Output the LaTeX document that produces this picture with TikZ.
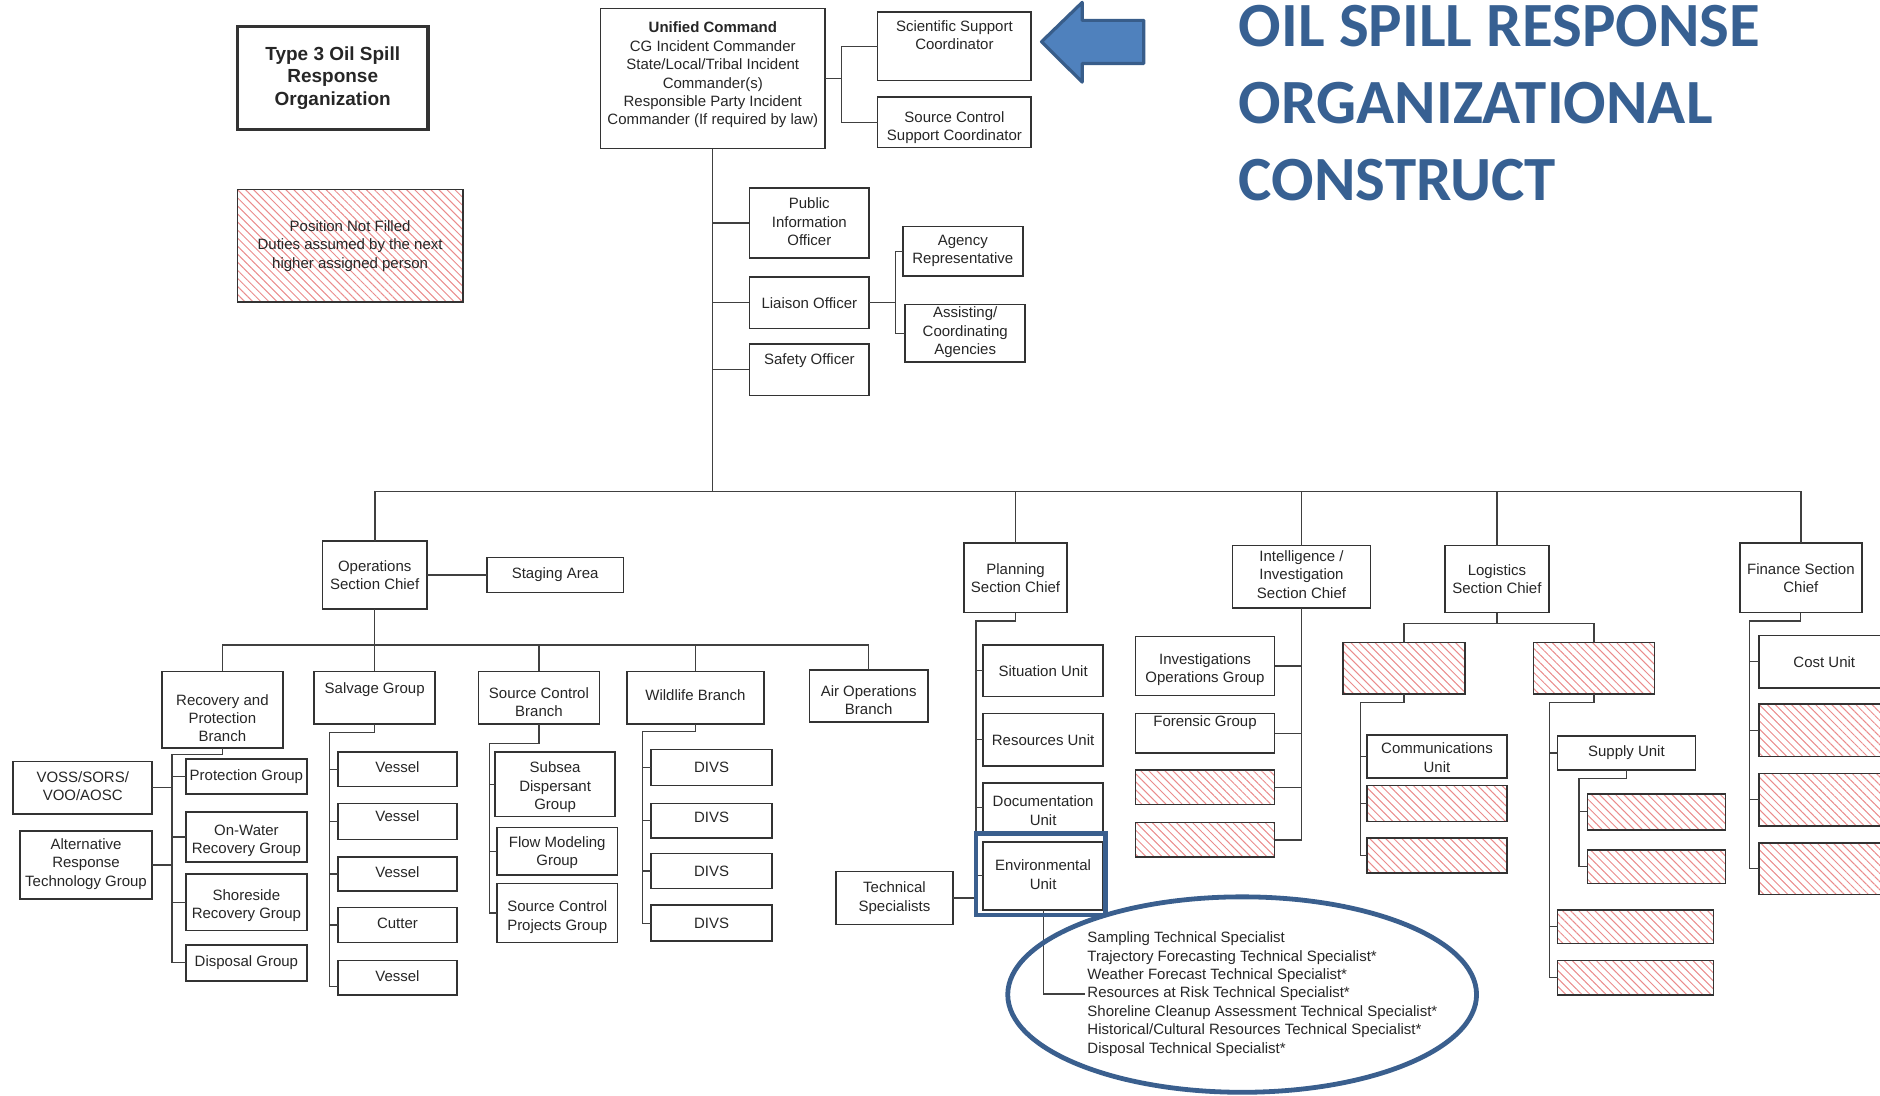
\documentclass[tikz,border=0pt]{standalone}
\usepackage{fontspec}
\setmainfont{Liberation Sans}
\newfontfamily\titlefont{Carlito}
\usetikzlibrary{patterns.meta}

\definecolor{oilblue}{RGB}{58,95,142}
\definecolor{arrowfill}{RGB}{79,129,189}
\definecolor{arrowline}{RGB}{56,93,138}
\definecolor{titleblue}{RGB}{55,96,146}
\definecolor{hatchred}{RGB}{234,140,140}

\tikzset{
  every node/.style={font=\fontsize{7.5}{9.2}\selectfont, text=black!85},
  orgbox/.style={draw=black!80, line width=0.8pt, inner sep=0pt, outer sep=0pt},
  hatched/.style={orgbox, pattern={Lines[angle=-45,distance=2.85pt,line width=0.5pt]}, pattern color=hatchred},
  hlbox/.style={draw=oilblue, line width=2.2pt, inner sep=0pt, outer sep=0pt},
  lbl/.style={align=center, inner sep=0pt},
  dn/.style={yshift={-(#1)*0.6pt}},
  link/.style={draw=black!75, line width=0.6pt},
}

% \ob[label options]{box style}{name}{x1}{y1}{x2}{y2}{text}
\newcommand{\ob}[8][]{%
  \node[#2, minimum width={(#6-#4)*0.6pt}, minimum height={(#7-#5)*0.6pt},
        label={[lbl,#1]center:{#8}}]
        (#3) at ({(#4+#6)/2},{(#5+#7)/2}) {};}

\begin{document}
\begin{tikzpicture}[x=0.6pt,y=-0.6pt]
\useasboundingbox (0,0) rectangle (1568,914);
\clip (0,0) rectangle (1568,914);

% ---------- command and staff ----------
\ob[font=\fontsize{9.5}{11.4}\selectfont\bfseries]{orgbox,line width=1.6pt}{type3}{198}{22}{357}{108}{Type 3 Oil Spill\\Response\\Organization}
\ob{hatched}{legend}{198}{158}{386}{252}{Position Not Filled\\Duties assumed by the next\\higher assigned person}

\ob[dn=-3]{orgbox}{uc}{501}{7}{688}{124}{\textbf{Unified Command}\\CG Incident Commander\\State/Local/Tribal Incident\\Commander(s)\\Responsible Party Incident\\Commander (If required by law)}
\ob[dn=-9]{orgbox}{ssc}{732}{10}{860}{67}{Scientific Support\\Coordinator}
\ob[dn=4.5]{orgbox}{scsc}{732}{81}{860}{123}{Source Control\\Support Coordinator}
\ob[dn=-1]{orgbox}{pio}{625}{157}{725}{215}{Public\\Information\\Officer}
\ob{orgbox}{lia}{625}{231}{725}{274}{Liaison Officer}
\ob[dn=-7.5]{orgbox}{saf}{625}{287}{725}{330}{Safety Officer}
\ob{orgbox}{agr}{753}{189}{853}{230}{Agency\\Representative}
\ob[dn=-1]{orgbox}{aca}{755}{254}{855}{302}{Assisting/\\Coordinating\\Agencies}

% ---------- section chiefs ----------
\ob{orgbox}{ops}{269}{451}{356}{508}{Operations\\Section Chief}
\ob{orgbox}{stg}{406}{465}{520}{494}{Staging Area}
\ob{orgbox}{plan}{804}{453}{890}{511}{Planning\\Section Chief}
\ob[dn=-2]{orgbox}{intel}{1028}{455}{1143}{507}{Intelligence /\\Investigation\\Section Chief}
\ob{orgbox}{logi}{1205}{455}{1292}{511}{Logistics\\Section Chief}
\ob{orgbox}{fin}{1451}{453}{1553}{511}{Finance Section\\Chief}

% ---------- operations ----------
\ob[dn=7]{orgbox}{rpb}{135}{560}{236}{624}{Recovery and\\Protection\\Branch}
\ob[dn=-7]{orgbox}{sal}{262}{560}{363}{604}{Salvage Group}
\ob[dn=3.5]{orgbox}{scb}{399}{560}{500}{604}{Source Control\\Branch}
\ob[dn=-2]{orgbox}{wb}{523}{560}{637}{604}{Wildlife Branch}
\ob[dn=3.5]{orgbox}{air}{675}{559}{774}{602}{Air Operations\\Branch}

\ob{orgbox}{pg}{155}{633}{256}{662}{Protection Group}
\ob[dn=3.5]{orgbox}{owr}{155}{677}{256}{719}{On-Water\\Recovery Group}
\ob[dn=3]{orgbox}{srg}{155}{729}{256}{776}{Shoreside\\Recovery Group}
\ob{orgbox}{dg}{155}{788}{256}{818}{Disposal Group}
\ob[dn=-1.5]{orgbox}{voss}{11}{635}{127}{679}{VOSS/SORS/\\VOO/AOSC}
\ob[dn=-1]{orgbox}{art}{16.5}{693}{127}{750}{Alternative\\Response\\Technology Group}

\ob[dn=-1.5]{orgbox}{v1}{282}{627}{381}{656}{Vessel}
\ob[dn=-4.5]{orgbox}{v2}{282}{670}{381}{700}{Vessel}
\ob[dn=-2]{orgbox}{v3}{282}{715}{381}{743}{Vessel}
\ob[dn=-1]{orgbox}{cut}{282}{757}{381}{786}{Cutter}
\ob[dn=-1.5]{orgbox}{v4}{282}{801}{381}{830}{Vessel}

\ob[dn=2.5]{orgbox}{sdg}{413}{627}{513}{681}{Subsea\\Dispersant\\Group}
\ob[dn=1]{orgbox}{fmg}{414.5}{690}{515}{730}{Flow Modeling\\Group}
\ob[dn=3.5]{orgbox}{scp}{414.5}{737}{515}{786}{Source Control\\Projects Group}

\ob{orgbox}{d1}{543}{625}{644}{655}{DIVS}
\ob[dn=-2.5]{orgbox}{d2}{543}{670}{644}{699}{DIVS}
\ob{orgbox}{d3}{543}{712}{644}{741}{DIVS}
\ob{orgbox}{d4}{543}{755}{644}{785}{DIVS}

% ---------- planning ----------
\ob{orgbox}{sit}{820}{538}{920}{581}{Situation Unit}
\ob{orgbox}{res}{820}{595}{920}{639}{Resources Unit}
\ob[dn=2.5]{orgbox}{doc}{820}{653}{920}{694}{Documentation\\Unit}
\ob[dn=-1]{orgbox}{env}{820}{702}{920}{759}{Environmental\\Unit}
\ob{orgbox}{ts}{697}{727}{795}{771}{Technical\\Specialists}

% ---------- intelligence / investigation ----------
\ob[dn=3]{orgbox}{iog}{947}{531}{1063}{580}{Investigations\\Operations Group}
\ob[dn=-8.5]{orgbox}{frg}{947}{595}{1063}{628}{Forensic Group}
\ob{hatched}{ih1}{947}{642}{1063}{671}{}
\ob{hatched}{ih2}{947}{686}{1063}{715}{}

% ---------- logistics ----------
\ob{hatched}{lh1}{1120}{536}{1222}{579}{}
\ob{hatched}{lh2}{1279}{536}{1380}{579}{}
\ob[dn=1]{orgbox}{com}{1140}{613}{1257}{649}{Communications\\Unit}
\ob{hatched}{ch2}{1140}{655}{1257}{685}{}
\ob{hatched}{ch3}{1140}{699}{1257}{728}{}
\ob{orgbox}{sup}{1299}{614}{1414}{642}{Supply Unit}
\ob{hatched}{sh1}{1324}{662}{1439}{692}{}
\ob{hatched}{sh2}{1324}{709}{1439}{737}{}
\ob{hatched}{lh3}{1299}{759}{1429}{787}{}
\ob{hatched}{lh4}{1299}{801}{1429}{830}{}

% ---------- finance ----------
\ob{orgbox}{cost}{1467}{530}{1576}{574}{Cost Unit}
\ob{hatched}{fh1}{1467}{587}{1576}{631}{}
\ob{hatched}{fh2}{1467}{645}{1576}{689}{}
\ob{hatched}{fh3}{1467}{703}{1576}{746}{}

% ---------- environmental unit specialists ----------
\node[align=left, anchor=west, inner sep=1pt] (spec) at (905,829)
  {Sampling Technical Specialist\\
   Trajectory Forecasting Technical Specialist*\\
   Weather Forecast Technical Specialist*\\
   Resources at Risk Technical Specialist*\\
   Shoreline Cleanup Assessment Technical Specialist*\\
   Historical/Cultural Resources Technical Specialist*\\
   Disposal Technical Specialist*};

% ---------- fork points ----------
\coordinate (ucfork) at (702,0);
\coordinate (liafork) at (747,0);
\coordinate (bus) at (0,410);
\coordinate (opsbus) at (0,538);
\coordinate (rpbk) at (143.5,629);
\coordinate (salk) at (275,611);
\coordinate (scbk) at (408,620);
\coordinate (wbk) at (535.7,610);
\coordinate (plank) at (814,518);
\coordinate (logk) at (0,520);
\coordinate (l1k) at (1135,586);
\coordinate (l2k) at (1292,586);
\coordinate (supk) at (1317,649);
\coordinate (fink) at (1459,518);
\coordinate (v4in) at ([yshift=-4.5pt]v4.west);

% ---------- connectors ----------
\draw[link] (uc.east) -- (uc.east -| ucfork);
\draw[link] (ssc.west) -- (ssc.west -| ucfork) -- (scsc.west -| ucfork) -- (scsc.west);
\draw[link] (uc.south) -- (uc.south |- bus);
\foreach \s in {pio,lia,saf} \draw[link] (\s.west) -- (\s.west -| uc.south);
\draw[link] (lia.east) -- (lia.east -| liafork);
\draw[link] (agr.west) -- (agr.west -| liafork) -- (aca.west -| liafork) -- (aca.west);

\draw[link, line width=0.9pt] (ops.north) -- (ops.north |- bus) -- (fin.north |- bus) -- (fin.north);
\foreach \s in {plan,intel,logi} \draw[link] (\s.north) -- (\s.north |- bus);
\draw[link] (ops.east) -- (stg.west);

\draw[link] (ops.south) -- (ops.south |- opsbus);
\draw[link] (rpb.north) -- (rpb.north |- opsbus) -- (air.north |- opsbus) -- (air.north);
\foreach \s in {sal,scb,wb} \draw[link] (\s.north) -- (\s.north |- opsbus);

\draw[link] (rpb.south) -- (rpb.south |- rpbk) -- (rpbk) -- (rpbk |- dg.west) -- (dg.west);
\foreach \s in {pg,owr,srg} \draw[link] (\s.west) -- (\s.west -| rpbk);
\foreach \s in {voss,art} \draw[link] (\s.east) -- (\s.east -| rpbk);

\draw[link] (sal.south) -- (sal.south |- salk) -- (salk) -- (salk |- v4in) -- (v4in);
\foreach \s in {v1,v2,v3,cut} \draw[link] (\s.west) -- (\s.west -| salk);

\draw[link] (scb.south) -- (scb.south |- scbk) -- (scbk) -- (scbk |- scp.west) -- (scp.west);
\foreach \s in {sdg,fmg} \draw[link] (\s.west) -- (\s.west -| scbk);

\draw[link] (wb.south) -- (wb.south |- wbk) -- (wbk) -- (wbk |- d4.west) -- (d4.west);
\foreach \s in {d1,d2,d3} \draw[link] (\s.west) -- (\s.west -| wbk);

\draw[link] (plan.south) -- (plan.south |- plank) -- (plank) -- (plank |- ts.east) -- (ts.east);
\foreach \s in {sit,res,doc,env} \draw[link] (\s.west) -- (\s.west -| plank);
\draw[link] (env.south) |- (spec.west);

\draw[link] (intel.south) -- (intel.south |- ih2.east) -- (ih2.east);
\foreach \s in {iog,frg,ih1} \draw[link] (\s.east) -- (\s.east -| intel.south);

\draw[link] (logi.south) -- (logi.south |- logk);
\draw[link] (lh1.north) -- (lh1.north |- logk) -- (lh2.north |- logk) -- (lh2.north);
\draw[link] (lh1.south) -- (lh1.south |- l1k) -- (l1k) -- (l1k |- ch3.west) -- (ch3.west);
\foreach \s in {com,ch2} \draw[link] (\s.west) -- (\s.west -| l1k);
\draw[link] (lh2.south) -- (lh2.south |- l2k) -- (l2k) -- (l2k |- lh4.west) -- (lh4.west);
\foreach \s in {sup,lh3} \draw[link] (\s.west) -- (\s.west -| l2k);
\draw[link] (sup.south) -- (sup.south |- supk) -- (supk) -- (supk |- sh2.west) -- (sh2.west);
\draw[link] (sh1.west) -- (sh1.west -| supk);

\draw[link] (fin.south) -- (fin.south |- fink) -- (fink) -- (fink |- fh3.west) -- (fh3.west);
\foreach \s in {cost,fh1,fh2} \draw[link] (\s.west) -- (\s.west -| fink);

% ---------- highlights ----------
\ob{hlbox}{envhl}{814}{695}{922}{763}{}
\draw[oilblue, line width=2.4pt] (1036,829.5) ellipse [x radius=195.5, y radius=81.5];

\draw[fill=arrowfill, draw=arrowline, line width=1.6pt, line join=round]
  (868.7,34.8) -- (902.6,2) -- (902.6,17) -- (954,17) -- (954,53)
  -- (902.6,53) -- (902.6,68.5) -- cycle;

% ---------- title ----------
\tikzset{titletext/.style={font=\titlefont\bfseries\fontsize{31.5}{38}\selectfont, text=titleblue, anchor=base west, inner sep=0pt}}
\node[titletext] (t1) at (1033,39) {OIL SPILL RESPONSE};
\node[titletext] (t2) at (1033,103) {ORGANIZATIONAL};
\node[titletext] (t3) at (1033,167) {CONSTRUCT};
\end{tikzpicture}
\end{document}
